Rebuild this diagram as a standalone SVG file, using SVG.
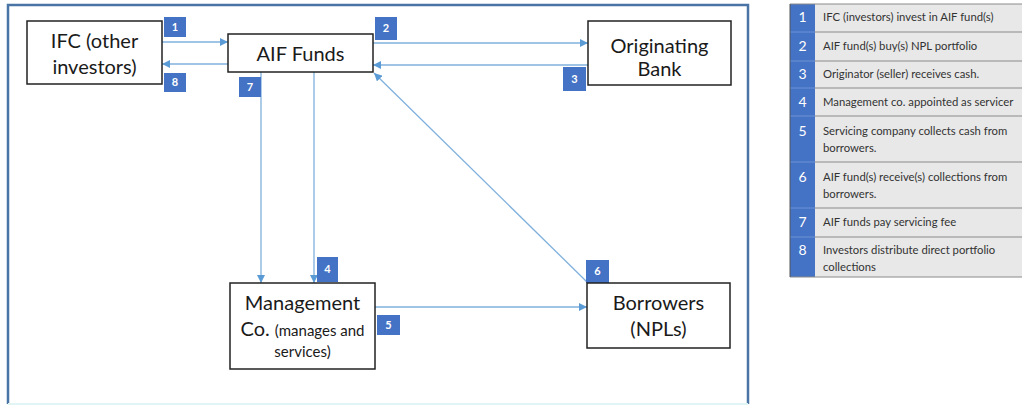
<svg xmlns="http://www.w3.org/2000/svg" width="1022" height="406" viewBox="0 0 1022 406">
<defs>
<marker id="ah" viewBox="0 0 10 10" refX="10" refY="5" markerWidth="8" markerHeight="8" markerUnits="userSpaceOnUse" orient="auto">
<path d="M0,0 L10,5 L0,10 z" fill="#5b9bd5"/>
</marker>
<style>
.box{fill:#fff;stroke:#222;stroke-width:1.5}
.lbl{font-family:Lato,"Liberation Sans",sans-serif;font-size:20px;fill:#1a1a1a;text-anchor:middle}
.sm{font-size:15px}
.conn{stroke:#7fb0dd;stroke-width:1.3;fill:none;marker-end:url(#ah)}
.sq{fill:#4472c4}
.sqt{font-family:Lato,"Liberation Sans",sans-serif;font-size:11px;font-weight:bold;fill:#fff;text-anchor:middle}
.lt{font-family:Lato,"Liberation Sans",sans-serif;font-size:11.3px;fill:#333}
.ln{font-family:Lato,"Liberation Sans",sans-serif;font-size:14px;fill:#fff;text-anchor:middle}
.row{stroke:#8a8a8a;stroke-width:1}
</style>
</defs>
<rect width="1022" height="406" fill="#fff"/>
<path d="M8,404 V5 H748 V404" fill="none" stroke="#4a74a6" stroke-width="2.5"/>
<line x1="8" y1="404" x2="748" y2="404" stroke="#e2f5f5" stroke-width="2"/>

<g id="connectors">
<line class="conn" x1="162" y1="42" x2="228" y2="42"/>
<line class="conn" x1="228" y1="64" x2="162" y2="64"/>
<line class="conn" x1="373" y1="43" x2="588" y2="43"/>
<line class="conn" x1="588" y1="65" x2="373" y2="65"/>
<line class="conn" x1="587" y1="282" x2="374" y2="73"/>
<line class="conn" x1="261" y1="72" x2="261" y2="283"/>
<line class="conn" x1="314" y1="72" x2="314" y2="283"/>
<line class="conn" x1="375" y1="307" x2="587" y2="307"/>
</g>

<g id="badges">
<rect class="sq" x="164" y="17" width="22" height="20"/><text class="sqt" x="175" y="31">1</text>
<rect class="sq" x="164" y="73" width="22" height="19"/><text class="sqt" x="175" y="86">8</text>
<rect class="sq" x="239" y="77" width="22" height="20"/><text class="sqt" x="250" y="91">7</text>
<rect class="sq" x="375" y="17" width="22" height="23"/><text class="sqt" x="386" y="32">2</text>
<rect class="sq" x="563" y="67" width="23" height="24"/><text class="sqt" x="574.5" y="83">3</text>
<rect class="sq" x="317" y="257" width="21" height="25"/><text class="sqt" x="327.5" y="273">4</text>
<rect class="sq" x="377" y="315" width="23" height="20"/><text class="sqt" x="388.5" y="329">5</text>
<rect class="sq" x="586" y="260" width="23" height="23"/><text class="sqt" x="597.5" y="275">6</text>
</g>

<g id="ifc">
<rect class="box" x="27" y="21" width="135" height="63"/>
<text class="lbl" x="94.5" y="48">IFC (other</text>
<text class="lbl" x="94.5" y="74">investors)</text>
</g>
<g id="aif">
<rect class="box" x="228" y="34" width="145" height="38"/>
<text class="lbl" x="300.5" y="61">AIF Funds</text>
</g>
<g id="bank">
<rect class="box" x="588" y="21" width="143" height="64"/>
<text class="lbl" x="659.5" y="53">Originating</text>
<text class="lbl" x="659.5" y="76">Bank</text>
</g>
<g id="mgmt">
<rect class="box" x="230" y="283" width="145" height="86"/>
<text class="lbl" x="302.5" y="310">Management</text>
<text class="lbl" x="302.5" y="336">Co. <tspan class="sm">(manages and</tspan></text>
<text class="lbl sm" x="302.5" y="357">services)</text>
</g>
<g id="borrowers">
<rect class="box" x="587" y="283" width="143" height="65"/>
<text class="lbl" x="658.5" y="310">Borrowers</text>
<text class="lbl" x="658.5" y="336">(NPLs)</text>
</g>

<g id="legend">
<rect x="815" y="4" width="207" height="273" fill="#e8e8e8"/>
<rect x="790" y="4" width="25" height="273" fill="#4472c4"/>
<line class="row" x1="790" y1="4" x2="1022" y2="4" stroke-width="2"/>
<line class="row" x1="815" y1="32" x2="1022" y2="32"/>
<line class="row" x1="815" y1="61" x2="1022" y2="61"/>
<line class="row" x1="815" y1="88" x2="1022" y2="88"/>
<line class="row" x1="815" y1="116" x2="1022" y2="116"/>
<line class="row" x1="815" y1="162" x2="1022" y2="162"/>
<line class="row" x1="815" y1="208" x2="1022" y2="208"/>
<line class="row" x1="815" y1="237" x2="1022" y2="237"/>
<line class="row" x1="790" y1="277" x2="1022" y2="277"/>
<g stroke="#6f93d6" stroke-width="1">
<line x1="790" y1="32" x2="815" y2="32"/><line x1="790" y1="61" x2="815" y2="61"/>
<line x1="790" y1="88" x2="815" y2="88"/><line x1="790" y1="116" x2="815" y2="116"/>
<line x1="790" y1="162" x2="815" y2="162"/><line x1="790" y1="208" x2="815" y2="208"/>
<line x1="790" y1="237" x2="815" y2="237"/>
</g>
<line x1="790" y1="4" x2="790" y2="277" stroke="#555" stroke-width="1"/>
<text class="ln" x="802.5" y="22">1</text>
<text class="ln" x="802.5" y="51">2</text>
<text class="ln" x="802.5" y="79">3</text>
<text class="ln" x="802.5" y="107">4</text>
<text class="ln" x="802.5" y="136">5</text>
<text class="ln" x="802.5" y="182">6</text>
<text class="ln" x="802.5" y="227">7</text>
<text class="ln" x="802.5" y="255">8</text>
<text class="lt" x="823" y="21">IFC (investors) invest in AIF fund(s)</text>
<text class="lt" x="823" y="50">AIF fund(s) buy(s) NPL portfolio</text>
<text class="lt" x="823" y="78">Originator (seller) receives cash.</text>
<text class="lt" x="823" y="106">Management co. appointed as servicer</text>
<text class="lt" x="823" y="135">Servicing company collects cash from</text>
<text class="lt" x="823" y="152">borrowers.</text>
<text class="lt" x="823" y="181">AIF fund(s) receive(s)  collections from</text>
<text class="lt" x="823" y="198">borrowers.</text>
<text class="lt" x="823" y="226">AIF funds pay servicing fee</text>
<text class="lt" x="823" y="254">Investors distribute direct portfolio</text>
<text class="lt" x="823" y="271">collections</text>
</g>
</svg>
